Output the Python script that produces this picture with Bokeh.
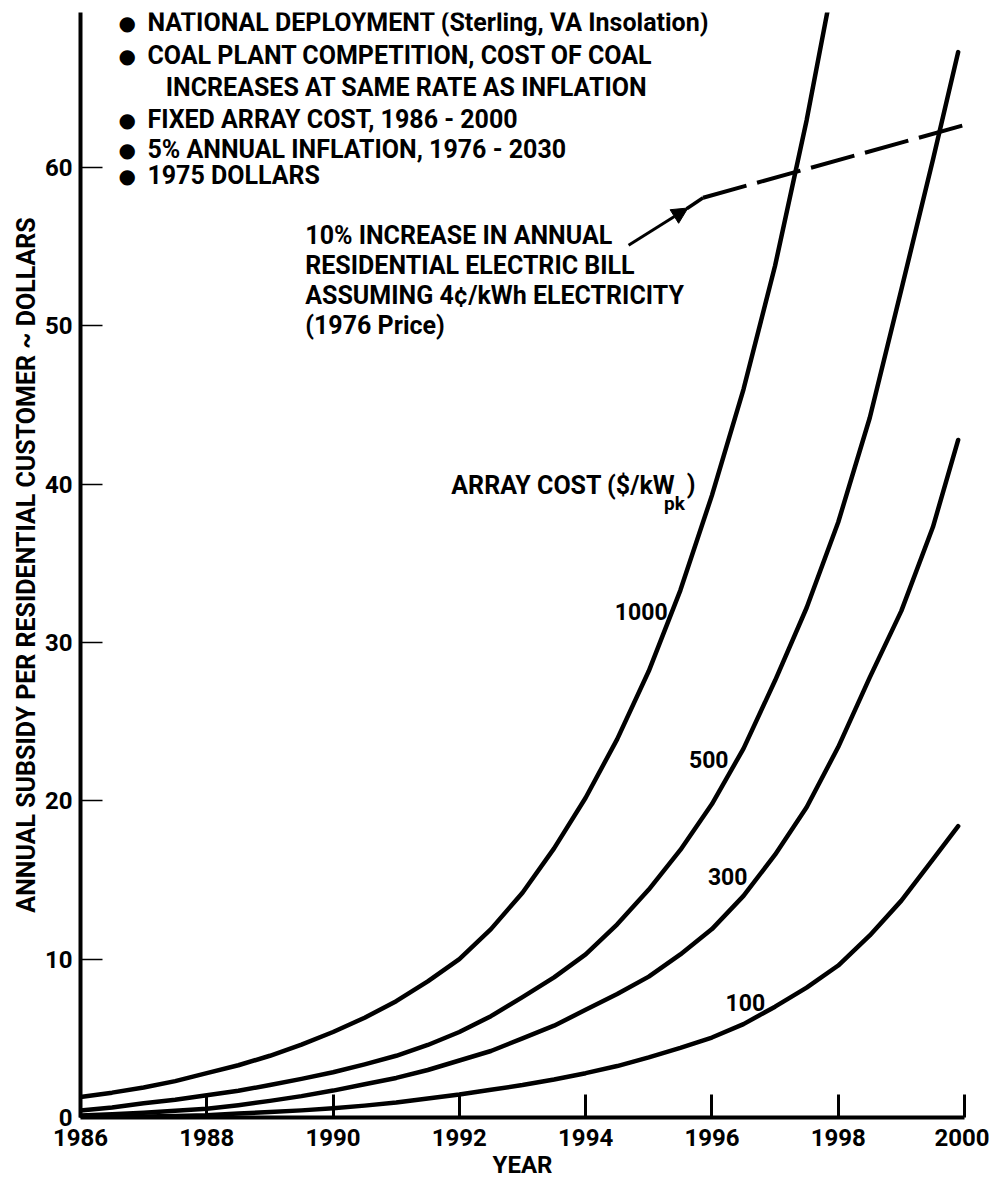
from bokeh.plotting import figure
from bokeh.models import Range1d, FixedTicker, Label, Arrow, NormalHead, ColumnDataSource
from bokeh.embed import file_html
from bokeh.resources import INLINE

# ---------------- data ----------------
x_ticks = [1986, 1988, 1990, 1992, 1994, 1996, 1998, 2000]
y_ticks = [0, 10, 20, 30, 40, 50, 60]

yrs_1000 = [1986, 1986.5, 1987, 1987.5, 1988, 1988.5, 1989, 1989.5, 1990, 1990.5,
            1991, 1991.5, 1992, 1992.5, 1993, 1993.5, 1994, 1994.5, 1995, 1995.5,
            1996, 1996.5, 1997, 1997.5, 1997.85]
val_1000 = [1.3, 1.57, 1.9, 2.3, 2.8, 3.3, 3.9, 4.6, 5.4, 6.3,
            7.35, 8.6, 10.0, 11.9, 14.2, 17.0, 20.2, 23.9, 28.2, 33.3,
            39.3, 46.0, 53.8, 63.0, 70.3]

yrs_full = [1986, 1986.5, 1987, 1987.5, 1988, 1988.5, 1989, 1989.5, 1990, 1990.5,
            1991, 1991.5, 1992, 1992.5, 1993, 1993.5, 1994, 1994.5, 1995, 1995.5,
            1996, 1996.5, 1997, 1997.5, 1998, 1998.5, 1999, 1999.5, 1999.9]
val_500 = [0.44, 0.63, 0.9, 1.12, 1.4, 1.69, 2.05, 2.44, 2.86, 3.36,
           3.9, 4.58, 5.4, 6.4, 7.6, 8.85, 10.3, 12.2, 14.4, 16.9,
           19.8, 23.3, 27.6, 32.2, 37.6, 44.2, 52.3, 60.5, 67.3]
val_300 = [0.13, 0.2, 0.3, 0.42, 0.55, 0.78, 1.05, 1.35, 1.7, 2.1,
           2.5, 3.0, 3.6, 4.2, 5.0, 5.8, 6.8, 7.8, 8.9, 10.3,
           11.9, 14.0, 16.6, 19.6, 23.4, 27.8, 32.0, 37.3, 42.8]
val_100 = [0.02, 0.04, 0.07, 0.1, 0.15, 0.25, 0.35, 0.45, 0.58, 0.75,
           0.95, 1.2, 1.45, 1.75, 2.05, 2.4, 2.8, 3.25, 3.8, 4.4,
           5.05, 5.9, 7.0, 8.2, 9.6, 11.5, 13.7, 16.3, 18.4]

# 10% increase in annual residential electric bill (reference line)
bill_years = [1995.86, 2000.1]
bill_values = [58.1, 62.8]

series_names = ["1000", "500", "300", "100"]

notes = ["NATIONAL DEPLOYMENT (Sterling, VA Insolation)",
         "COAL PLANT COMPETITION, COST OF COAL",
         "INCREASES AT SAME RATE AS INFLATION",
         "FIXED ARRAY COST, 1986 - 2000",
         "5% ANNUAL INFLATION, 1976 - 2030",
         "1975 DOLLARS"]
note_bullet = [True, True, False, True, True, True]

bill_text = ["10% INCREASE IN ANNUAL",
             "RESIDENTIAL ELECTRIC BILL",
             "ASSUMING 4\u00a2/kWh ELECTRICITY",
             "(1976 Price)"]

# ---------------- layout / style ----------------
FONT = "Roboto"
note_y = [(1117 - v) / 15.833 for v in [22, 55, 87, 119, 149, 175]]
bill_y = [(1117 - v) / 15.833 for v in [235, 265, 295, 325]]

p = figure(width=989, height=1187,
           x_range=Range1d(1986, 2000), y_range=Range1d(0, 69.8),
           output_backend="svg", toolbar_location=None,
           min_border_left=80, min_border_right=25, min_border_top=12, min_border_bottom=70,
           x_axis_label="YEAR",
           y_axis_label="ANNUAL SUBSIDY PER RESIDENTIAL CUSTOMER ~ DOLLARS")
p.outline_line_color = None
p.grid.visible = False
p.background_fill_color = "white"
p.border_fill_color = "white"

xa = p.xaxis[0]
xa.ticker = FixedTicker(ticks=x_ticks)
xa.axis_line_width = 4
xa.axis_line_color = "black"
xa.major_tick_in = 23
xa.major_tick_out = 0
xa.major_tick_line_width = 3
xa.minor_tick_line_color = None
xa.major_label_text_font = FONT
xa.major_label_text_font_style = "bold"
xa.major_label_text_font_size = "24px"
xa.major_label_text_color = "black"
xa.major_label_standoff = 11
xa.axis_label_text_font = FONT
xa.axis_label_text_font_style = "bold"
xa.axis_label_text_font_size = "24px"
xa.axis_label_text_color = "black"
xa.axis_label_standoff = 2

ya = p.yaxis[0]
ya.ticker = FixedTicker(ticks=y_ticks)
ya.axis_line_width = 4
ya.axis_line_color = "black"
ya.major_tick_in = 22
ya.major_tick_out = 0
ya.major_tick_line_width = 1.5
ya.minor_tick_line_color = None
ya.major_label_text_font = FONT
ya.major_label_text_font_style = "bold"
ya.major_label_text_font_size = "24px"
ya.major_label_text_color = "black"
ya.major_label_standoff = 8
ya.axis_label_text_font = FONT
ya.axis_label_text_font_style = "bold"
ya.axis_label_text_font_size = "25px"
ya.axis_label_text_color = "black"
ya.axis_label_standoff = 1

# ---------------- curves ----------------
curves = [(yrs_1000, val_1000), (yrs_full, val_500), (yrs_full, val_300), (yrs_full, val_100)]
for (xs, ys), name in zip(curves, series_names):
    src = ColumnDataSource(dict(x=xs, y=ys))
    p.line("x", "y", source=src, line_color="black", line_width=4.5, line_cap="round",
           line_join="round")

p.line(bill_years, bill_values, line_color="black", line_width=4, line_dash="45 11")

# arrow from the note to the reference line
p.add_layout(Arrow(end=NormalHead(size=16, fill_color="black", line_color="black"),
                   x_start=1994.68, y_start=55.1, x_end=1995.62, y_end=57.45,
                   line_width=3, line_color="black"))
p.add_layout(Arrow(end=None, x_start=1995.6, y_start=57.4, x_end=1995.86, y_end=58.1,
                   line_width=3.5, line_color="black"))

# ---------------- texts ----------------
def lab(x, y, text, size="25px", align="left", baseline="middle", font=FONT, style="bold"):
    p.add_layout(Label(x=x, y=y, text=text, text_font=font, text_font_style=style,
                       text_font_size=size, text_align=align, text_baseline=baseline,
                       text_color="black"))

for t, b, yy in zip(notes, note_bullet, note_y):
    if b:
        lab(1986.74, yy, "\u25cf", size="20px", align="center", font="DejaVu Sans", style="normal")
        lab(1987.06, yy, t)
    else:
        lab(1987.35, yy, t)

for t, yy in zip(bill_text, bill_y):
    lab(1989.56, yy, t)

# curve labels
curve_label_pos = [(1994.88, 31.96), (1995.95, 22.6), (1996.25, 15.2), (1996.53, 7.26)]
for name, (cx, cy) in zip(series_names, curve_label_pos):
    lab(cx, cy, name, size="23px", align="center")

# array cost heading with subscript
lab(1995.42, 39.9, "ARRAY COST ($/kW", align="right")
lab(1995.24, 38.8, "pk", size="19px")
lab(1995.6, 40.0, ")")

open("out.html", "w").write(file_html(p, INLINE))
